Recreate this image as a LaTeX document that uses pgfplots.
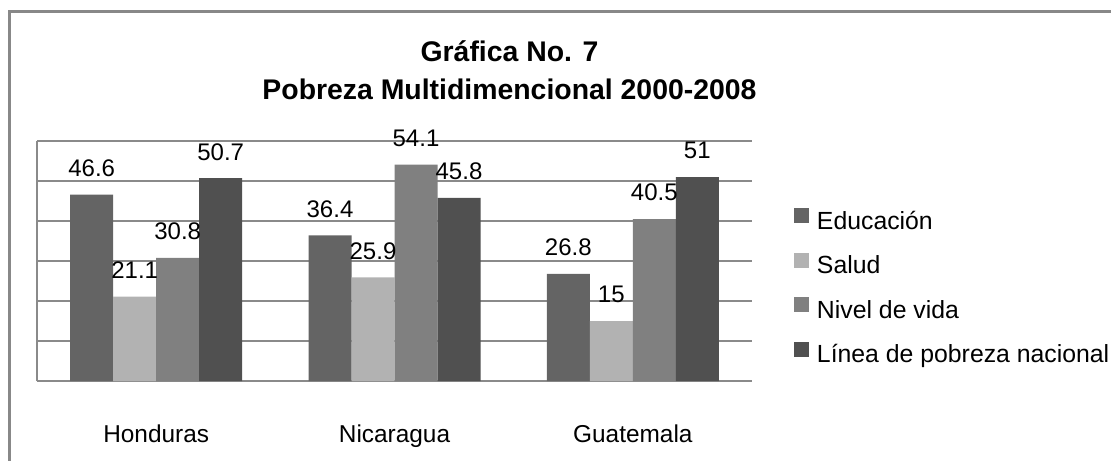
\documentclass[border=0pt]{standalone}
\usepackage{fontspec}
\setmainfont{Liberation Sans}
\usepackage{pgfplots}
\pgfplotsset{compat=1.18}
\definecolor{cEdu}{HTML}{646464}
\definecolor{cSal}{HTML}{B2B2B2}
\definecolor{cNiv}{HTML}{808080}
\definecolor{cLin}{HTML}{505050}
\definecolor{gridgray}{HTML}{8A8A8A}
\definecolor{framegray}{HTML}{888888}

\begin{document}
\begin{tikzpicture}
\path[use as bounding box] (-18.5pt,-39.5pt) rectangle (537pt,190.5pt);
% marco del grafico (recortado a la derecha y abajo)
\draw[framegray, line width=1.5pt] (-13.75pt,-45pt) -- (-13.75pt,184.75pt) -- (545pt,184.75pt);
\begin{axis}[
  scale only axis, width=357.5pt, height=120pt,
  at={(0pt,0pt)}, anchor=south west,
  ybar=0pt, bar width=21.5pt,
  xmin=-0.5, xmax=2.5, ymin=0, ymax=60,
  xtick={0,1,2}, xticklabels={Honduras,Nicaragua,Guatemala},
  ytick={0,10,...,60}, yticklabels={},
  major tick length=0pt,
  ymajorgrids, grid style={draw=gridgray, line width=0.8pt},
  axis x line*=bottom, axis y line*=left,
  x axis line style={draw=gridgray, line width=1.2pt, -},
  y axis line style={draw=gridgray, line width=0.8pt, -},
  clip=false,
  nodes near coords,
  every node near coord/.append style={font=\fontsize{12}{14}\selectfont, anchor=south, yshift=8.85pt, inner sep=0pt, text depth=0pt, text=black},
  /pgf/number format/assume math mode=true,
  xticklabel style={font=\fontsize{12.2}{14}\selectfont, anchor=base, yshift=-30.5pt, inner sep=0pt},
  legend style={draw=none, fill=none, at={(1.0587,0.7208)}, anchor=north west,
    legend cell align=left, row sep=8.75pt, inner sep=0pt, outer sep=0pt,
    font=\fontsize{12.4}{14}\selectfont,
    nodes={inner sep=0pt, text height=9pt, text depth=3pt}},
  legend image code/.code={%
    \path[fill=none, draw=none] (0pt,0pt) rectangle (11.5pt,7.5pt);
    \fill[#1, draw=none] (0pt,0pt) rectangle (7.5pt,7.5pt);},
]
\addplot[fill=cEdu, draw=none] coordinates {(0,46.6) (1,36.4) (2,26.8)};
\addplot[fill=cSal, draw=none] coordinates {(0,21.1) (1,25.9) (2,15)};
\addplot[fill=cNiv, draw=none] coordinates {(0,30.8) (1,54.1) (2,40.5)};
\addplot[fill=cLin, draw=none] coordinates {(0,50.7) (1,45.8) (2,51)};
\legend{Educación,Salud,Nivel de vida,Línea de pobreza nacional}
\end{axis}
\node[anchor=base, font=\fontsize{14.2}{17}\selectfont\bfseries] at (236.25pt,159.5pt) {Gráfica No. 7};
\node[anchor=base, font=\fontsize{14.2}{17}\selectfont\bfseries] at (236.25pt,140.5pt) {Pobreza Multidimencional 2000-2008};
\end{tikzpicture}
\end{document}
